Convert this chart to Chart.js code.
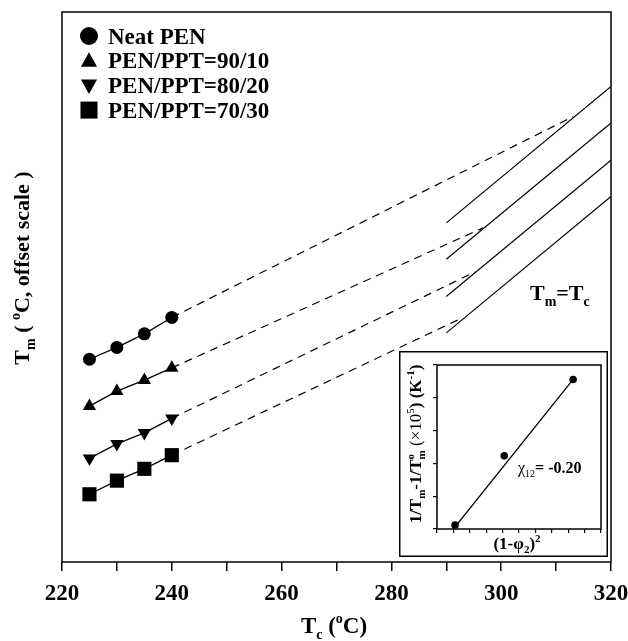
<!DOCTYPE html>
<html>
<head>
<meta charset="utf-8">
<script src="https://cdn.jsdelivr.net/npm/chart.js@4.4.1/dist/chart.umd.min.js"></script>
<style>
  html, body { margin: 0; padding: 0; background: #fff; }
  #wrap { position: relative; width: 628px; height: 641px; }
  #main { position: absolute; left: 0; top: 0; }
  #inset { position: absolute; left: 399px; top: 351px; }
</style>
</head>
<body>
<div id="wrap">
  <canvas id="main" width="628" height="641"></canvas>
  <canvas id="inset" width="209" height="206"></canvas>
</div>
<script>
const SERIF = '"Liberation Serif", "Times New Roman", serif';

// Main plot: Tm vs Tc (offset scale)
const tcValues = [225, 230, 235, 240];
const neatPen = [44.6, 47.2, 50.2, 53.8];
const pen9010 = [34.3, 37.6, 40.0, 42.7];
const pen8020 = [22.8, 26.0, 28.4, 31.6];
const pen7030 = [14.9, 17.9, 20.5, 23.5];
const seriesNames = ['Neat PEN', 'PEN/PPT=90/10', 'PEN/PPT=80/20', 'PEN/PPT=70/30'];

// extrapolation (dashed) end points, where they meet Tm=Tc
const extrapEndX = [313.1, 296.7, 295.2, 292.9];
const extrapEndY = [98.0, 73.5, 63.8, 53.7];

// Tm = Tc reference lines
const tmLineX = [290, 320];
const tmLineStartY = [74.6, 66.6, 58.4, 50.4];
const tmLineEndY = [104.6, 96.6, 88.4, 80.4];

const xTicks = [220, 240, 260, 280, 300, 320];

// Inset: 1/Tm - 1/Tm0 vs (1-phi2)^2
const insetX = [1.1, 4.1, 8.3];
const insetY = [0.12, 2.23, 4.56];
const insetFitX = [1.0, 8.3];
const insetFitY = [0.0, 4.56];

const markers = [
  { style: 'circle', r: 6.5, rot: 0 },
  { style: 'triangle', r: 7.7, rot: 0 },
  { style: 'triangle', r: 7.7, rot: 180 },
  { style: 'rect', r: 10, rot: 0 },
];

function richText(ctx, parts, x, y, size, align, rotate) {
  const fontOf = p => `${p.b === false ? '' : 'bold '}${p.s ? Math.round(size * 0.62) : size}px ${SERIF}`;
  let total = 0, prevStart = 0, prevW = 0;
  const pos = parts.map(p => {
    ctx.font = fontOf(p);
    const w = ctx.measureText(p.t).width;
    let start = total;
    if (p.over) { start = prevStart; total = prevStart + Math.max(prevW, w); }
    else { total += w; }
    prevStart = start; prevW = w;
    return start;
  });
  ctx.save();
  ctx.translate(x, y);
  if (rotate) ctx.rotate(-Math.PI / 2);
  const off = align === 'center' ? -total / 2 : 0;
  ctx.fillStyle = '#000';
  ctx.textAlign = 'left';
  ctx.textBaseline = 'alphabetic';
  parts.forEach((p, i) => {
    ctx.font = fontOf(p);
    const dy = p.s === 'sub' ? size * 0.25 : p.s === 'sup' ? -size * 0.42 : 0;
    ctx.fillText(p.t, off + pos[i], dy);
  });
  ctx.restore();
}

function drawMarker(ctx, m, x, y, r) {
  ctx.beginPath();
  if (m.style === 'circle') {
    ctx.arc(x, y, r, 0, Math.PI * 2);
  } else if (m.style === 'rect') {
    ctx.rect(x - r, y - r, 2 * r, 2 * r);
  } else {
    const s = m.rot ? -1 : 1;
    ctx.moveTo(x, y - s * r);
    ctx.lineTo(x + r * 0.95, y + s * r * 0.7);
    ctx.lineTo(x - r * 0.95, y + s * r * 0.7);
    ctx.closePath();
  }
  ctx.fillStyle = '#000';
  ctx.fill();
}

const mainDecor = {
  id: 'mainDecor',
  beforeDraw(chart) {
    const ctx = chart.ctx;
    ctx.save();
    ctx.fillStyle = '#fff';
    ctx.fillRect(0, 0, chart.width, chart.height);
    ctx.restore();
  },
  afterDraw(chart) {
    const ctx = chart.ctx;
    const a = chart.chartArea;
    ctx.save();
    ctx.strokeStyle = '#000';
    ctx.lineWidth = 1.5;
    ctx.strokeRect(a.left, a.top, a.right - a.left, a.bottom - a.top);

    // legend
    seriesNames.forEach((name, i) => {
      const base = 43.5 + i * 24.7;
      drawMarker(ctx, markers[i], 89, base - 7.5, i === 0 ? 9 : 8.5);
      richText(ctx, [{ t: name }], 108, base, 23, 'left', false);
    });

    richText(ctx, [{ t: 'T' }, { t: 'm', s: 'sub' }, { t: '=T' }, { t: 'c', s: 'sub' }], 530, 300, 22, 'left', false);
    richText(ctx, [{ t: 'T' }, { t: 'c', s: 'sub' }, { t: ' (' }, { t: 'o', s: 'sup' }, { t: 'C)' }], 334, 633, 23, 'center', false);
    richText(ctx, [{ t: 'T' }, { t: 'm', s: 'sub' }, { t: ' ( ' }, { t: 'o', s: 'sup' }, { t: 'C, offset scale )' }], 29, 268, 22, 'center', true);
    ctx.restore();
  }
};

const mainDatasets = [];
[neatPen, pen9010, pen8020, pen7030].forEach((vals, i) => {
  mainDatasets.push({
    label: seriesNames[i],
    data: tcValues.map((x, k) => ({ x, y: vals[k] })),
    showLine: true,
    borderColor: '#000',
    borderWidth: 1.3,
    backgroundColor: '#000',
    pointBackgroundColor: '#000',
    pointBorderWidth: 0,
    pointStyle: markers[i].style,
    pointRadius: markers[i].r,
    pointRotation: markers[i].rot,
  });
  mainDatasets.push({
    label: seriesNames[i] + ' extrapolation',
    data: [{ x: tcValues[tcValues.length - 1], y: vals[vals.length - 1] }, { x: extrapEndX[i], y: extrapEndY[i] }],
    showLine: true,
    borderColor: '#000',
    borderWidth: 1.2,
    borderDash: [8, 6],
    pointRadius: 0,
  });
  mainDatasets.push({
    label: 'Tm=Tc ' + (i + 1),
    data: [{ x: tmLineX[0], y: tmLineStartY[i] }, { x: tmLineX[1], y: tmLineEndY[i] }],
    showLine: true,
    borderColor: '#000',
    borderWidth: 1.2,
    pointRadius: 0,
  });
});

new Chart(document.getElementById('main').getContext('2d'), {
  type: 'scatter',
  data: { datasets: mainDatasets },
  options: {
    responsive: false,
    animation: false,
    devicePixelRatio: 1,
    layout: { padding: { left: 62, top: 12, right: 17, bottom: 0 } },
    plugins: { legend: { display: false }, tooltip: { enabled: false } },
    scales: {
      x: {
        type: 'linear',
        min: 220, max: 320,
        afterFit: s => { s.height = 79; s.paddingLeft = 0; s.paddingRight = 0; },
        border: { display: false },
        grid: { display: true, drawOnChartArea: false, drawTicks: true, tickLength: 9, color: '#000', lineWidth: 1.5 },
        ticks: {
          stepSize: 10,
          autoSkip: false,
          maxRotation: 0,
          padding: 9,
          color: '#000',
          font: { family: SERIF, size: 23, weight: 'bold' },
          callback: v => xTicks.includes(v) ? String(v) : '',
        },
      },
      y: { type: 'linear', min: 0, max: 121, display: false },
    },
  },
  plugins: [mainDecor],
});

const insetDecor = {
  id: 'insetDecor',
  beforeDraw(chart) {
    const ctx = chart.ctx;
    ctx.save();
    ctx.fillStyle = '#fff';
    ctx.fillRect(0, 0, chart.width, chart.height);
    ctx.restore();
  },
  afterDraw(chart) {
    const ctx = chart.ctx;
    const a = chart.chartArea;
    ctx.save();
    ctx.strokeStyle = '#000';
    ctx.lineWidth = 1.5;
    ctx.strokeRect(a.left, a.top, a.right - a.left, a.bottom - a.top);
    ctx.lineWidth = 1.5;
    ctx.strokeRect(0.75, 0.75, chart.width - 1.5, chart.height - 1.5);

    richText(ctx, [
      { t: '1/T' }, { t: 'm', s: 'sub' }, { t: '-1/T' }, { t: 'm', s: 'sub' }, { t: 'o', s: 'sup', over: true },
      { t: ' (\u00d710', b: false }, { t: '5', s: 'sup', b: false }, { t: ') (K' }, { t: '-1', s: 'sup' }, { t: ')' },
    ], 22, 93, 17, 'center', true);
    richText(ctx, [{ t: '(1-' }, { t: '\u03c6' }, { t: '2', s: 'sub' }, { t: ')' }, { t: '2', s: 'sup' }], 118, 198, 17, 'center', false);
    richText(ctx, [{ t: '\u03c7', b: false }, { t: '12', s: 'sub', b: false }, { t: '= -0.20' }], 119, 122, 16, 'left', false);
    ctx.restore();
  }
};

new Chart(document.getElementById('inset').getContext('2d'), {
  type: 'scatter',
  data: {
    datasets: [
      {
        label: 'data',
        data: insetX.map((x, k) => ({ x, y: insetY[k] })),
        pointRadius: 3.8,
        pointBackgroundColor: '#000',
        pointBorderWidth: 0,
      },
      {
        label: 'fit',
        data: insetFitX.map((x, k) => ({ x, y: insetFitY[k] })),
        showLine: true,
        borderColor: '#000',
        borderWidth: 1.3,
        pointRadius: 0,
      },
    ],
  },
  options: {
    responsive: false,
    animation: false,
    devicePixelRatio: 1,
    layout: { padding: { left: 34, top: 14, right: 7, bottom: 0 } },
    plugins: { legend: { display: false }, tooltip: { enabled: false } },
    scales: {
      x: {
        type: 'linear', min: 0, max: 10,
        afterFit: s => { s.height = 28; },
        border: { display: false },
        grid: { display: true, drawOnChartArea: false, drawTicks: true, tickLength: 4, color: '#000', lineWidth: 1.2 },
        ticks: { stepSize: 1, display: false },
      },
      y: {
        type: 'linear', min: 0, max: 5,
        afterFit: s => { s.width = 4; },
        border: { display: false },
        grid: { display: true, drawOnChartArea: false, drawTicks: true, tickLength: 4, color: '#000', lineWidth: 1.2 },
        ticks: { stepSize: 1, display: false },
      },
    },
  },
  plugins: [insetDecor],
});
</script>
</body>
</html>
